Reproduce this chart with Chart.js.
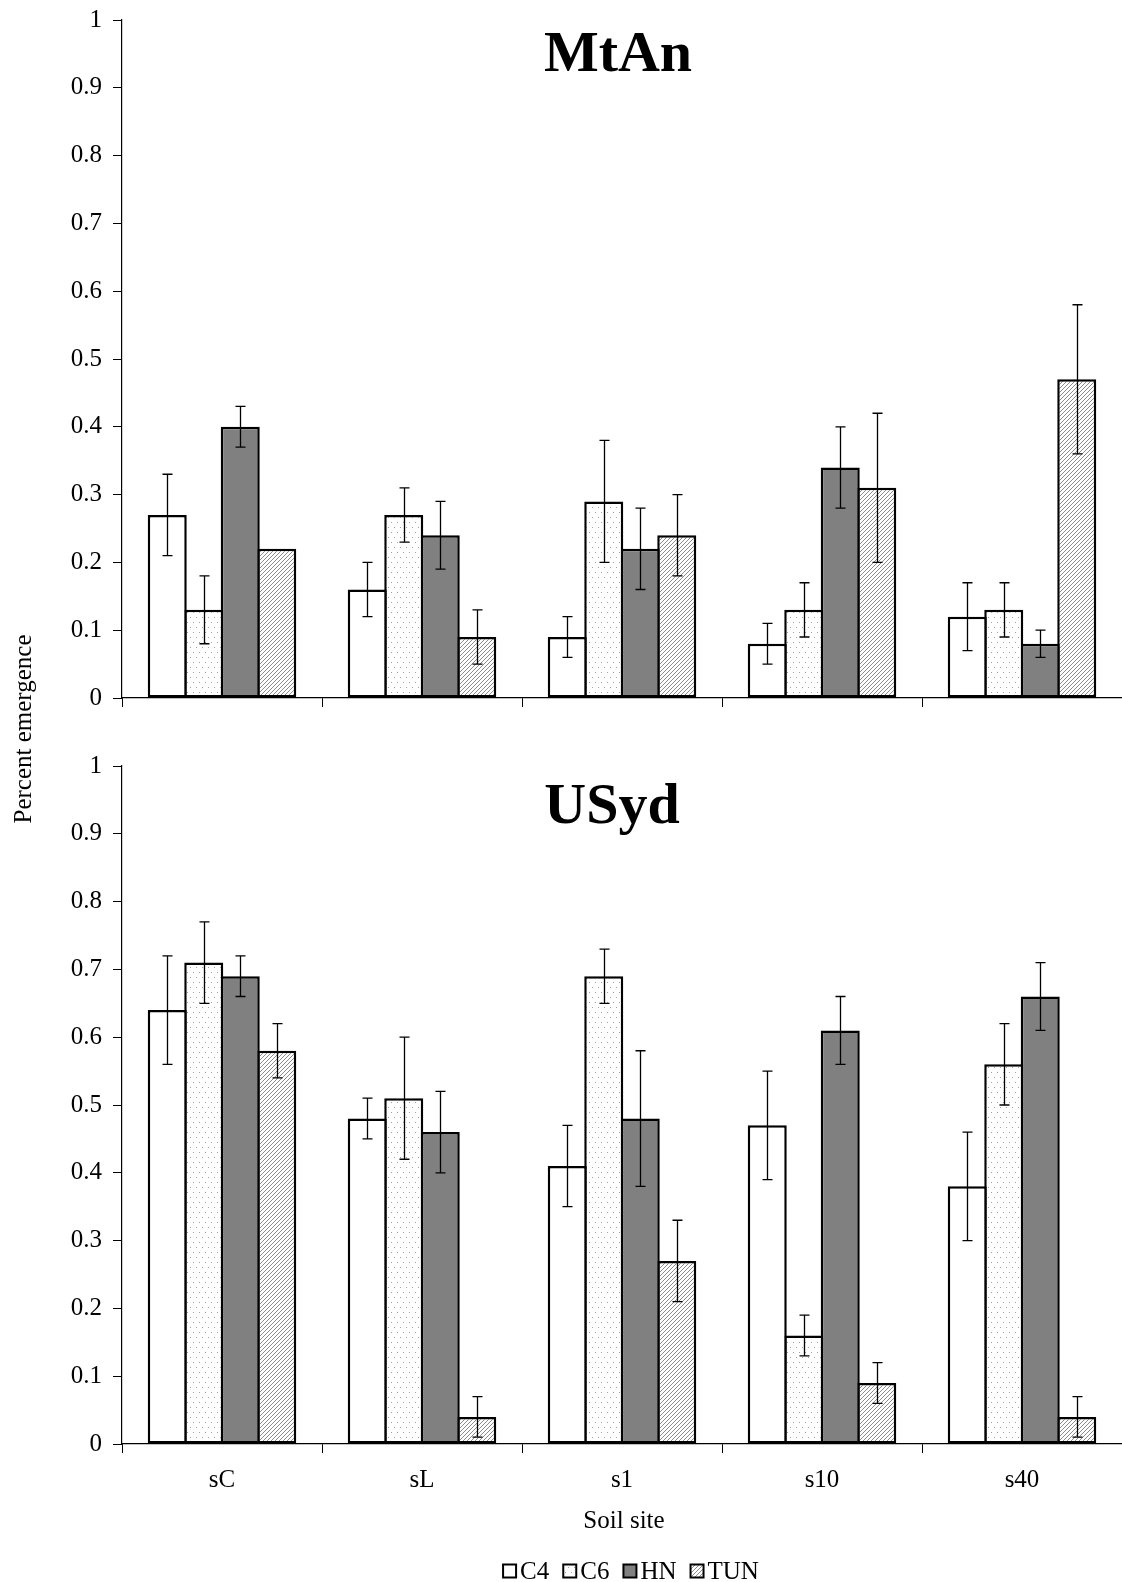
<!DOCTYPE html>
<html>
<head>
<meta charset="utf-8">
<script src="https://cdn.jsdelivr.net/npm/chart.js@4.4.1/dist/chart.umd.min.js"></script>
<style>
  html, body { margin: 0; padding: 0; background: #fff; }
  #wrap { position: relative; width: 1122px; height: 1582px; }
  #wrap canvas { position: absolute; left: 0; top: 0; }
</style>
</head>
<body>
<div id="wrap">
  <canvas id="mtan" width="1122" height="1582"></canvas>
  <canvas id="usyd" width="1122" height="1582"></canvas>
</div>
<script>
// Categories and series
const sites = ['sC', 'sL', 's1', 's10', 's40'];
const seriesNames = ['C4', 'C6', 'HN', 'TUN'];
const yTickLabels = ['0', '0.1', '0.2', '0.3', '0.4', '0.5', '0.6', '0.7', '0.8', '0.9', '1'];

// MtAn: mean emergence and error (half-length of the error bar)
const mtanC4 = [0.27, 0.16, 0.09, 0.08, 0.12];
const mtanC4Err = [0.06, 0.04, 0.03, 0.03, 0.05];
const mtanC6 = [0.13, 0.27, 0.29, 0.13, 0.13];
const mtanC6Err = [0.05, 0.04, 0.09, 0.04, 0.04];
const mtanHN = [0.40, 0.24, 0.22, 0.34, 0.08];
const mtanHNErr = [0.03, 0.05, 0.06, 0.06, 0.02];
const mtanTUN = [0.22, 0.09, 0.24, 0.31, 0.47];
const mtanTUNErr = [0, 0.04, 0.06, 0.11, 0.11];

// USyd
const usydC4 = [0.64, 0.48, 0.41, 0.47, 0.38];
const usydC4Err = [0.08, 0.03, 0.06, 0.08, 0.08];
const usydC6 = [0.71, 0.51, 0.69, 0.16, 0.56];
const usydC6Err = [0.06, 0.09, 0.04, 0.03, 0.06];
const usydHN = [0.69, 0.46, 0.48, 0.61, 0.66];
const usydHNErr = [0.03, 0.06, 0.10, 0.05, 0.05];
const usydTUN = [0.58, 0.04, 0.27, 0.09, 0.04];
const usydTUNErr = [0.04, 0.03, 0.06, 0.03, 0.03];

const SERIF = '"Liberation Serif", "Times New Roman", serif';

// ---- fill patterns ----
function dotPattern() {
  const c = document.createElement('canvas');
  c.width = 6; c.height = 10;
  const g = c.getContext('2d');
  g.fillStyle = '#fff'; g.fillRect(0, 0, 6, 10);
  g.fillStyle = '#a0a0a0';
  g.fillRect(1, 2, 1, 1);
  g.fillRect(4, 7, 1, 1);
  return g.createPattern(c, 'repeat');
}
function hatchPattern() {
  const s = 4;
  const c = document.createElement('canvas');
  c.width = s; c.height = s;
  const g = c.getContext('2d');
  g.fillStyle = '#fff'; g.fillRect(0, 0, s, s);
  g.strokeStyle = '#8c8c8c';
  g.lineWidth = 1;
  g.beginPath();
  g.moveTo(0, s); g.lineTo(s, 0);
  g.moveTo(-1, 1); g.lineTo(1, -1);
  g.moveTo(s - 1, s + 1); g.lineTo(s + 1, s - 1);
  g.stroke();
  return g.createPattern(c, 'repeat');
}
const fills = ['#ffffff', dotPattern(), '#808080', hatchPattern()];

function makeDatasets(values, errors) {
  return seriesNames.map((name, i) => ({
    label: name,
    data: values[i],
    errors: errors[i],
    backgroundColor: fills[i],
    borderColor: '#000',
    borderWidth: 2.5,
    borderSkipped: false,
    categoryPercentage: 0.73,
    barPercentage: 1.0685
  }));
}

// ---- error bars ----
const errorBars = {
  id: 'errorBars',
  afterDatasetsDraw(chart) {
    const ctx = chart.ctx;
    const y = chart.scales.y;
    ctx.save();
    ctx.strokeStyle = '#000';
    ctx.lineWidth = 1.3;
    chart.data.datasets.forEach((ds, di) => {
      const meta = chart.getDatasetMeta(di);
      meta.data.forEach((bar, j) => {
        const e = ds.errors[j];
        if (!e) return;
        const v = ds.data[j];
        const x = Math.round(bar.x) + 0.5;
        const y1 = y.getPixelForValue(v - e);
        const y2 = y.getPixelForValue(v + e);
        ctx.beginPath();
        ctx.moveTo(x, y1); ctx.lineTo(x, y2);
        ctx.moveTo(x - 5, y1); ctx.lineTo(x + 5, y1);
        ctx.moveTo(x - 5, y2); ctx.lineTo(x + 5, y2);
        ctx.stroke();
      });
    });
    ctx.restore();
  }
};

// ---- panel title, axis titles, legend ----
const decorations = {
  id: 'decorations',
  afterDraw(chart, args, opts) {
    const ctx = chart.ctx;
    const area = chart.chartArea;
    ctx.save();
    ctx.fillStyle = '#000';
    ctx.textAlign = 'center';
    ctx.textBaseline = 'alphabetic';
    ctx.font = 'bold 58px ' + SERIF;
    ctx.fillText(opts.title, (area.left + area.right) / 2 + opts.titleDx, area.top + opts.titleDy);

    if (opts.bottomPanel) {
      ctx.font = '25px ' + SERIF;
      ctx.fillText('Soil site', (area.left + area.right) / 2 + 2, area.bottom + 84);

      // y-axis title, shared by both panels
      ctx.save();
      ctx.translate(31, 729);
      ctx.rotate(-Math.PI / 2);
      ctx.textBaseline = 'alphabetic';
      ctx.fillText('Percent emergence', 0, 0);
      ctx.restore();

      // legend
      const box = 13, gap = 4, spacing = 14;
      ctx.font = '25px ' + SERIF;
      const items = chart.data.datasets.map(ds => ({
        ds, w: box + gap + ctx.measureText(ds.label).width
      }));
      const total = items.reduce((s, it) => s + it.w, 0) + spacing * (items.length - 1);
      let x = 631 - total / 2;
      const cy = area.bottom + 127;
      ctx.textAlign = 'left';
      items.forEach(it => {
        ctx.fillStyle = it.ds.backgroundColor;
        ctx.fillRect(x, cy - box / 2, box, box);
        ctx.strokeStyle = '#000';
        ctx.lineWidth = 2;
        ctx.strokeRect(x, cy - box / 2, box, box);
        ctx.fillStyle = '#000';
        ctx.fillText(it.ds.label, x + box + gap, cy + 8);
        x += it.w + spacing;
      });
    }
    ctx.restore();
  }
};

function makeChart(id, values, errors, cfg) {
  return new Chart(document.getElementById(id), {
    type: 'bar',
    data: { labels: sites, datasets: makeDatasets(values, errors) },
    plugins: [errorBars, decorations],
    options: {
      responsive: false,
      animation: false,
      devicePixelRatio: 1,
      layout: { autoPadding: false, padding: { left: 0, right: 0, top: cfg.padTop, bottom: cfg.padBottom } },
      plugins: {
        legend: { display: false },
        tooltip: { enabled: false },
        decorations: cfg.decorations
      },
      scales: {
        x: {
          grid: {
            offset: true, drawOnChartArea: false, drawTicks: true,
            tickLength: 9, color: '#000', lineWidth: 1
          },
          border: { display: true, color: '#000', width: 1.2 },
          ticks: {
            display: cfg.showX,
            color: '#000',
            padding: 12,
            font: { family: SERIF, size: 25 }
          },
          afterFit: (s) => { s.height = cfg.xHeight; }
        },
        y: {
          min: 0, max: 1,
          ticks: {
            stepSize: 0.1,
            color: '#000',
            padding: 11,
            font: { family: SERIF, size: 25, lineHeight: 0.5 },
            callback: (v, i) => yTickLabels[i]
          },
          grid: { drawOnChartArea: false, drawTicks: true, tickLength: 9, color: '#000', lineWidth: 1 },
          border: { display: true, color: '#000', width: 1.2 },
          afterFit: (s) => { s.width = 122; }
        }
      }
    }
  });
}

// MtAn panel: plot area from y=20 to y=698
makeChart('mtan',
  [mtanC4, mtanC6, mtanHN, mtanTUN],
  [mtanC4Err, mtanC6Err, mtanHNErr, mtanTUNErr],
  { padTop: 20, padBottom: 1582 - 698 - 30, xHeight: 30, showX: false,
    decorations: { title: 'MtAn', titleDx: -4, titleDy: 51, bottomPanel: false } });

// USyd panel: plot area from y=766 to y=1444
makeChart('usyd',
  [usydC4, usydC6, usydHN, usydTUN],
  [usydC4Err, usydC6Err, usydHNErr, usydTUNErr],
  { padTop: 766, padBottom: 1582 - 1444 - 50, xHeight: 50, showX: true,
    decorations: { title: 'USyd', titleDx: -10, titleDy: 57, bottomPanel: true } });
</script>
</body>
</html>
